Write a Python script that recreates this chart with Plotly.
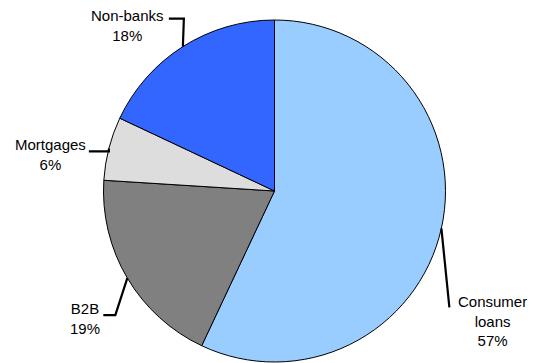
import math
import plotly.graph_objects as go

# ---- data ----
categories = ["Consumer loans", "B2B", "Mortgages", "Non-banks"]
values = [57, 19, 6, 18]
label_texts = ["Consumer<br>loans<br>57%", "B2B<br>19%", "Mortgages<br>6%", "Non-banks<br>18%"]

# ---- style ----
colors = ["#99CCFF", "#808080", "#DDDDDD", "#3366FF"]
PAGE_OFF = 8  # default body margin of the html page
W, H = 537 - PAGE_OFF, 363 - PAGE_OFF
CX, CY, R = 274.5, 191.0, 171.0  # pie centre / radius in window px

# leader-line geometry (offsets in px from slice mid-edge point): elbow, end, text centre
leader_style = {
    "Consumer loans": {"pts": [(8, 79)], "text": (51, 93)},
    "B2B": {"pts": [(-12, 37), (-24, 37)], "text": (-42, 40)},
    "Mortgages": {"pts": [(0, 3), (-20, 3)], "text": (-58, 6)},
    "Non-banks": {"pts": [(1, -28), (-14, -28)], "text": (-55, -21)},
}

def px(x):
    return (x - PAGE_OFF) / W

def py(y):
    return 1 - (y - PAGE_OFF) / H

fig = go.Figure(go.Pie(
    labels=categories,
    values=values,
    sort=False,
    direction="clockwise",
    rotation=0,
    marker=dict(colors=colors, line=dict(color="black", width=1)),
    textinfo="none",
    hoverinfo="label+percent",
    showlegend=False,
    domain=dict(x=[px(CX - R), px(CX + R)], y=[py(CY + R), py(CY - R)]),
))

total = sum(values)
cum = 0
shapes, annotations = [], []
for cat, val, txt in zip(categories, values, label_texts):
    mid = (cum + val / 2) / total * 2 * math.pi
    cum += val
    ex = CX + R * math.sin(mid)
    ey = CY - R * math.cos(mid)
    st = leader_style[cat]
    path = f"M {px(ex)} {py(ey)}"
    for dx, dy in st["pts"]:
        path += f" L {px(ex + dx)} {py(ey + dy)}"
    shapes.append(dict(type="path", xref="paper", yref="paper", path=path,
                       line=dict(color="black", width=2.2)))
    tx, ty = st["text"]
    annotations.append(dict(x=px(ex + tx), y=py(ey + ty), xref="paper", yref="paper",
                            text=txt, showarrow=False, xanchor="center", yanchor="middle",
                            align="center",
                            font=dict(family="Liberation Sans, Arial, sans-serif", size=15, color="black")))

fig.update_layout(
    width=W, height=H,
    margin=dict(l=0, r=0, t=0, b=0),
    paper_bgcolor="white", plot_bgcolor="white",
    shapes=shapes, annotations=annotations,
)

fig.write_html("out.html")
